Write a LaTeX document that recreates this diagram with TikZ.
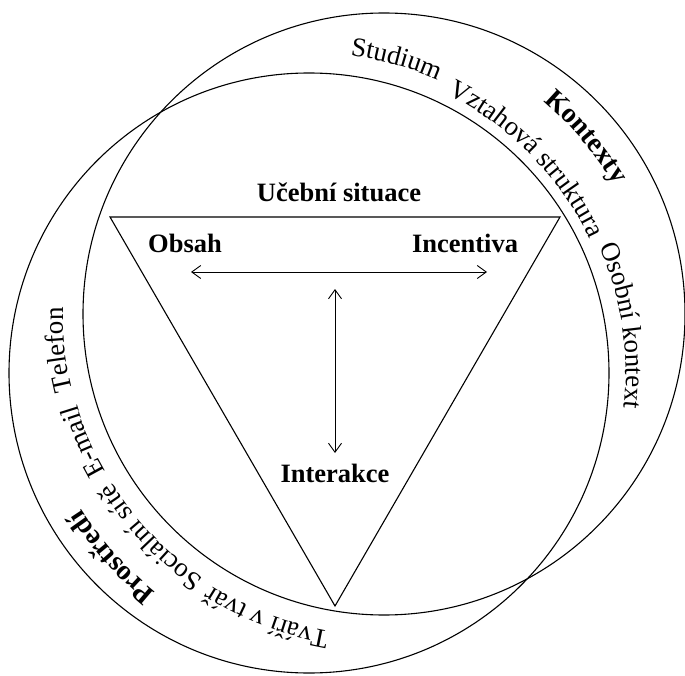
\documentclass[tikz,border=0pt]{standalone}
\usepackage{fontspec}
\setmainfont{Liberation Serif}
\usetikzlibrary{decorations.text,arrows.meta}
\newcommand\arctext[5]{%
  \pgfmathsetmacro\arcA{#4-40}%
  \pgfmathsetmacro\arcB{#4+40}%
  \path[ringtext={#5}] plot[domain=\arcA:\arcB, samples=161, variable=\t]
    ({#1+#3*cos(\t)},{#2+#3*sin(\t)});}
\begin{document}
\begin{tikzpicture}[x=1pt,y=-1pt,
  ring/.style={line width=1.1pt},
  tri/.style={line width=1.1pt, line join=miter},
  lab/.style={font=\fontsize{26.5}{30}\selectfont\bfseries, inner sep=0pt, anchor=base},
  dbl/.style={line width=0.9pt, {Straight Barb[length=9pt,width=13pt]}-{Straight Barb[length=9pt,width=13pt]}},
  ringtext/.style={decorate, decoration={text along path, text align=center, text={#1}}}
]
\useasboundingbox (0,0) rectangle (685,676);
\coordinate (A) at (384,314);
\coordinate (B) at (309,373);
\draw[ring] (A) circle[radius=301pt];
\draw[ring] (B) circle[radius=300pt];

\coordinate (T1) at (110,217);
\coordinate (T2) at (560,217);
\coordinate (T3) at (335,606);
\draw[tri] (T1) -- (T2) -- (T3) -- cycle;

\node[lab] (us) at (339,202) {Učební situace};
\node[lab] (ob) at (185,253) {Obsah};
\node[lab] (in) at (465,253) {Incentiva};
\node[lab] (ia) at (335,482) {Interakce};

\coordinate (hl) at (191,272);
\coordinate (hr) at (487,272);
\coordinate (vt) at (335,289);
\coordinate (vb) at (335,453);
\draw[dbl] (hl) -- (hr);
\draw[dbl] (vt) -- (vb);

% upper-right ring texts (concentric with B)
\arctext{309}{373}{320}{-74.4}{|\fontsize{27}{30}\selectfont|Studium}
\arctext{309}{373}{311}{-44.5}{|\fontsize{27}{30}\selectfont|Vztahová struktura}
\arctext{309}{373}{359}{-40.4}{|\fontsize{28}{30}\selectfont\bfseries|Kontexty}
\arctext{309}{373}{317}{-8.6}{|\fontsize{27}{30}\selectfont|Osobní kontext}
% lower-left ring texts (concentric with A)
\arctext{384}{314}{321}{173.7}{|\fontsize{27}{30}\selectfont|Telefon}
\arctext{384}{314}{320}{157}{|\fontsize{27}{30}\selectfont|E-mail}
\arctext{384}{314}{320}{136.3}{|\fontsize{27}{30}\selectfont|Sociální sítě}
\arctext{384}{314}{360}{138.2}{|\fontsize{28}{30}\selectfont\bfseries|Prostředí}
\arctext{384}{314}{322}{111.1}{|\fontsize{27}{30}\selectfont|Tváří v tvář}
\end{tikzpicture}
\end{document}
